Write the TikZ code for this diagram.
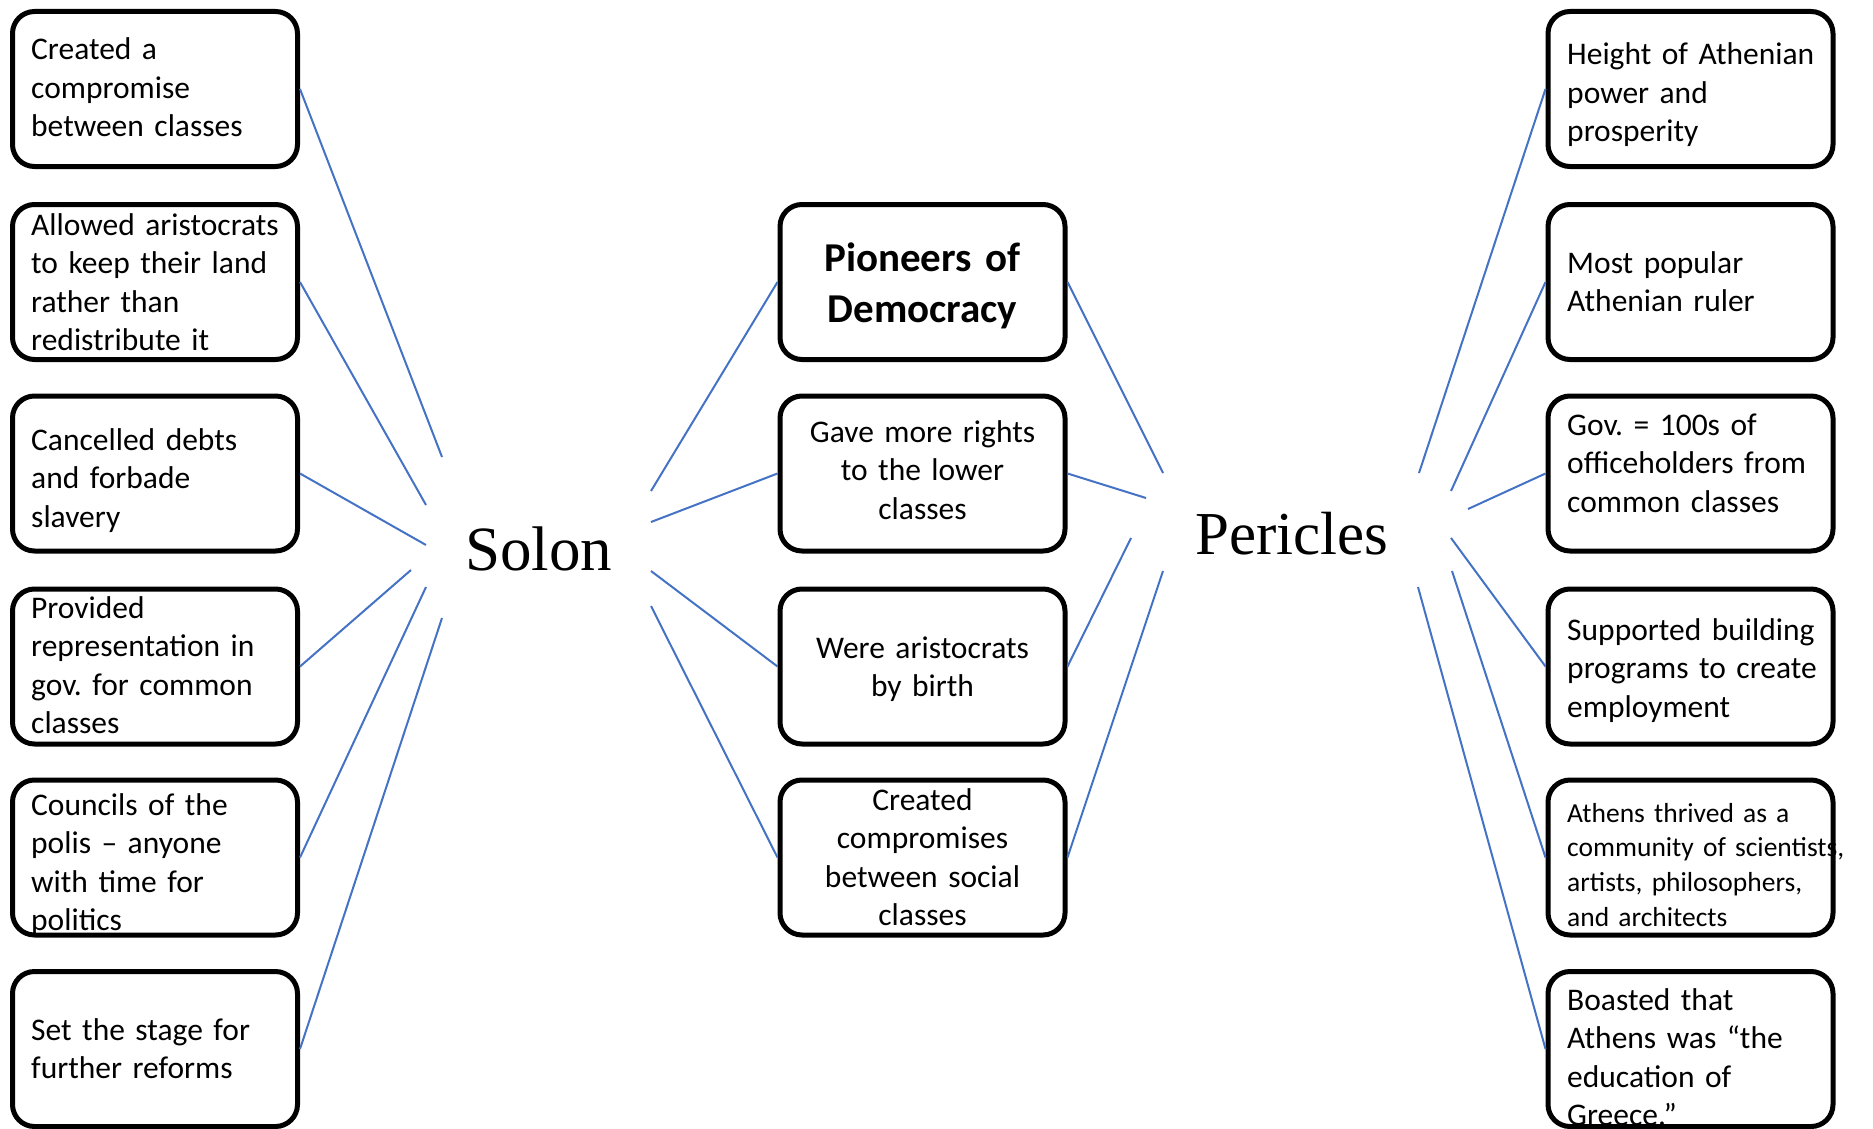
\documentclass[tikz,border=0pt]{standalone}
\usepackage{fontspec}
\setmainfont{Carlito}
\newfontfamily\headfont{Liberation Serif}
\definecolor{connblue}{HTML}{4472C4}
\frenchspacing
\begin{document}
\begin{tikzpicture}[x=1pt,y=-1pt,
  box/.style={draw, line width=5pt, rounded corners=22pt, minimum width=285pt, minimum height=155pt, inner sep=0pt},
  txt/.style={anchor=base west, text width=420pt, align=left, inner sep=0pt, font=\fontsize{31.5}{38.5}\selectfont},
  ctxt/.style={anchor=base, text width=300pt, align=center, inner sep=0pt, font=\fontsize{31.5}{38.5}\selectfont},
  conn/.style={draw=connblue, line width=2pt},
  head/.style={anchor=base west, inner sep=0pt}]
\useasboundingbox (0,0) rectangle (1873,1129);
% left column boxes
\node[box] (L1) at (155,89) {};
\node[box] (L2) at (155,282) {};
\node[box] (L3) at (155,473.5) {};
\node[box] (L4) at (155,666.5) {};
\node[box] (L5) at (155,857.5) {};
\node[box] (L6) at (155,1049) {};
% centre column boxes
\node[box] (C1) at (922.5,282) {};
\node[box] (C2) at (922.5,473.5) {};
\node[box] (C3) at (922.5,666.5) {};
\node[box] (C4) at (922.5,857.5) {};
% right column boxes
\node[box] (R1) at (1690.5,89) {};
\node[box] (R2) at (1690.5,282) {};
\node[box] (R3) at (1690.5,473.5) {};
\node[box] (R4) at (1690.5,666.5) {};
\node[box] (R5) at (1690.5,857.5) {};
\node[box] (R6) at (1690.5,1049) {};
% texts left
\node[txt] (tL1) at (31,60) {Created a\\compromise\\between classes};
\node[txt] (tL2) at (31,235) {Allowed aristocrats\\to keep their land\\rather than\\redistribute it};
\node[txt] (tL3) at (31,450) {Cancelled debts\\and forbade\\slavery};
\node[txt] (tL4) at (31,618) {Provided\\representation in\\gov. for common\\classes};
\node[txt] (tL5) at (31,815) {Councils of the\\polis – anyone\\with time for\\politics};
\node[txt] (tL6) at (31,1040) {Set the stage for\\further reforms};
% texts centre
\node[ctxt, font=\bfseries\fontsize{41}{51}\selectfont] (tC1) at (922.5,271) {Pioneers of\\Democracy};
\node[ctxt] (tC2) at (922.5,442) {Gave more rights\\to the lower\\classes};
\node[ctxt] (tC3) at (922.5,658) {Were aristocrats\\by birth};
\node[ctxt] (tC4) at (922.5,810) {Created\\compromises\\between social\\classes};
% texts right
\node[txt] (tR1) at (1567,65) {Height of Athenian\\power and\\prosperity};
\node[txt] (tR2) at (1567,273) {Most popular\\Athenian ruler};
\node[txt] (tR3) at (1567,435) {Gov. = 100s of\\officeholders from\\common classes};
\node[txt] (tR4) at (1567,640) {Supported building\\programs to create\\employment};
\node[txt, font=\fontsize{27.5}{34.7}\selectfont] (tR5) at (1567,822) {Athens thrived as a\\community of scientists,\\artists, philosophers,\\and architects};
\node[txt] (tR6) at (1567,1010) {Boasted that\\Athens was “the\\education of\\Greece.”};
% headings
\node[head, font=\headfont\fontsize{63}{70}\selectfont] (solon) at (465,570) {Solon};
\node[head, font=\headfont\fontsize{61}{70}\selectfont] (pericles) at (1195,554) {Pericles};
% free ends near Solon
\coordinate (sL1) at (442,457);
\coordinate (sL2) at (426,505);
\coordinate (sL3) at (426,545);
\coordinate (sL4) at (411,570);
\coordinate (sL5) at (426,587);
\coordinate (sL6) at (442,618);
\coordinate (sC1) at (651,491);
\coordinate (sC2) at (651,522);
\coordinate (sC3) at (651,571);
\coordinate (sC4) at (651,606);
% free ends near Pericles
\coordinate (pC1) at (1163,473);
\coordinate (pC2) at (1146,498);
\coordinate (pC3) at (1131,538);
\coordinate (pC4) at (1163,571);
\coordinate (pR1) at (1419,473);
\coordinate (pR2) at (1451,491);
\coordinate (pR3) at (1468,509);
\coordinate (pR4) at (1451,538);
\coordinate (pR5) at (1452,571);
\coordinate (pR6) at (1418,587);
% connectors
\foreach \i in {1,...,6} {\draw[conn] (L\i.east) -- (sL\i);}
\foreach \i in {1,...,4} {\draw[conn] (sC\i) -- (C\i.west);}
\foreach \i in {1,...,4} {\draw[conn] (C\i.east) -- (pC\i);}
\foreach \i in {1,...,6} {\draw[conn] (pR\i) -- (R\i.west);}
\end{tikzpicture}
\end{document}
